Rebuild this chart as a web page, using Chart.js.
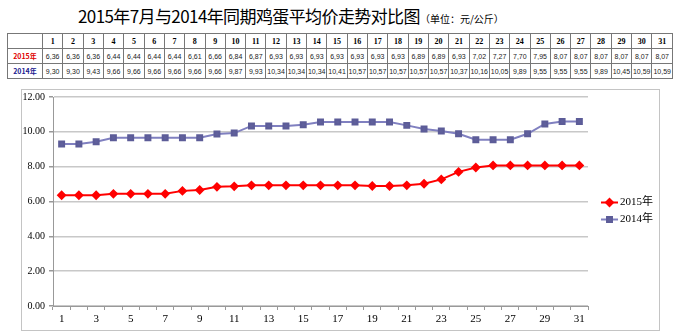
<!DOCTYPE html>
<html>
<head>
<meta charset="utf-8">
<script src="https://cdn.jsdelivr.net/npm/chart.js@4"></script>
<style>
  body { margin: 0; background: #fff; width: 680px; height: 333px; position: relative; overflow: hidden; font-family: "Noto Sans CJK SC", sans-serif; }
  #title { position: absolute; top: 3px; left: 78px; text-align: left; font-size: 17px; color: #000; white-space: nowrap; letter-spacing: -0.6px; }
  #title small { font-size: 10px; letter-spacing: 0; }
  #tbl { position: absolute; left: 7px; top: 33px; border-collapse: collapse; table-layout: fixed; width: 666px; }
  #tbl td { border: 1px solid #777; height: 14px; padding: 0; text-align: center; font-size: 7px; font-family: "Liberation Sans", sans-serif; color: #222; }
  #tbl tr:first-child td { font-family: "Liberation Serif", serif; font-weight: bold; font-size: 8px; color: #000; }
  #tbl td.r15 { color: #e00000; font-weight: bold; font-family: "Noto Sans CJK SC"; font-size: 7px; }
  #tbl td.r14 { color: #202090; font-weight: bold; font-family: "Noto Sans CJK SC"; font-size: 7px; }
  #box { position: absolute; left: 21px; top: 89px; width: 637px; height: 240px; border: 1px solid #c4c4c4; overflow: hidden; }
  #c { position: absolute; left: 0; top: -3px; }
</style>
</head>
<body>
<div id="title">2015年7月与2014年同期鸡蛋平均价走势对比图<small>（单位：元/公斤）</small></div>
<table id="tbl"></table>
<div id="box"><canvas id="c" width="637" height="243"></canvas></div>
<script>
const days = ['1','2','3','4','5','6','7','8','9','10','11','12','13','14','15','16','17','18','19','20','21','22','23','24','25','26','27','28','29','30','31'];
const price2015 = [6.36,6.36,6.36,6.44,6.44,6.44,6.44,6.61,6.66,6.84,6.87,6.93,6.93,6.93,6.93,6.93,6.93,6.93,6.89,6.89,6.93,7.02,7.27,7.70,7.95,8.07,8.07,8.07,8.07,8.07,8.07];
const price2014 = [9.30,9.30,9.43,9.66,9.66,9.66,9.66,9.66,9.66,9.87,9.93,10.34,10.34,10.34,10.41,10.57,10.57,10.57,10.57,10.57,10.37,10.16,10.05,9.89,9.55,9.55,9.55,9.89,10.45,10.59,10.59];
const seriesNames = ['2015年', '2014年'];

// data table above the chart
const fmt = v => v.toFixed(2).replace('.', ',');
const tbl = document.getElementById('tbl');
let html = '<colgroup><col style="width:35px">' + days.map(() => '<col>').join('') + '</colgroup>';
html += '<tr><td></td>' + days.map(d => `<td>${d}</td>`).join('') + '</tr>';
html += `<tr><td class="r15">${seriesNames[0]}</td>` + price2015.map(v => `<td>${fmt(v)}</td>`).join('') + '</tr>';
html += `<tr><td class="r14">${seriesNames[1]}</td>` + price2014.map(v => `<td>${fmt(v)}</td>`).join('') + '</tr>';
tbl.innerHTML = html;

// legend with line + marker, drawn right of the plot
const sideLegend = {
  id: 'sideLegend',
  afterDraw(chart) {
    const ctx = chart.ctx;
    const x0 = chart.chartArea.right + 13;
    const yMid = (chart.chartArea.top + chart.chartArea.bottom) / 2 + 1;
    chart.data.datasets.forEach((ds, i) => {
      const y = yMid + i * 17;
      ctx.save();
      ctx.strokeStyle = ds.borderColor;
      ctx.lineWidth = 2;
      ctx.beginPath();
      ctx.moveTo(x0, y);
      ctx.lineTo(x0 + 17, y);
      ctx.stroke();
      ctx.fillStyle = ds.pointBackgroundColor;
      ctx.strokeStyle = ds.pointBorderColor;
      Chart.helpers.drawPoint(ctx, { pointStyle: ds.pointStyle, radius: ds.pointRadius, borderWidth: 1 }, x0 + 8.5, y);
      ctx.fillStyle = '#000';
      ctx.font = '11px "Liberation Serif", "Noto Sans CJK SC", serif';
      ctx.textBaseline = 'middle';
      ctx.fillText(ds.label, x0 + 19, y);
      ctx.restore();
    });
  }
};

new Chart(document.getElementById('c'), {
  type: 'line',
  data: {
    labels: days,
    datasets: [
      {
        label: seriesNames[0],
        data: price2015,
        borderColor: '#ff0000',
        backgroundColor: '#ff0000',
        borderWidth: 2,
        pointStyle: 'rectRot',
        pointRadius: 3.5,
        pointBorderColor: '#ff0000',
        pointBackgroundColor: '#ff0000',
        tension: 0
      },
      {
        label: seriesNames[1],
        data: price2014,
        borderColor: '#8080c0',
        backgroundColor: '#60609c',
        borderWidth: 2,
        pointStyle: 'rect',
        pointRadius: 3.5,
        pointBorderColor: '#5c5c98',
        pointBackgroundColor: '#60609c',
        tension: 0
      }
    ]
  },
  options: {
    responsive: false,
    animation: false,
    devicePixelRatio: 1,
    layout: { padding: { left: 0, top: 0, right: 71, bottom: 0 } },
    plugins: { legend: { display: false }, tooltip: { enabled: false } },
    scales: {
      x: {
        offset: true,
        afterFit: s => { s.height = 24; },
        grid: { offset: true, drawOnChartArea: false, drawTicks: true, tickLength: 4, color: '#999' },
        border: { color: '#999' },
        ticks: {
          autoSkip: false,
          maxRotation: 0,
          padding: 3,
          color: '#000',
          font: { family: '"Liberation Serif", serif', size: 11 },
          callback: (v, i) => (i % 2 === 0 ? days[i] : '')
        }
      },
      y: {
        min: 0,
        max: 12,
        afterFit: s => { s.width = 31; },
        grid: { color: '#c8c8c8', lineWidth: 1.5, tickLength: 4, tickColor: '#999' },
        border: { color: '#999' },
        ticks: {
          stepSize: 2,
          padding: 4,
          color: '#000',
          font: { family: '"Liberation Serif", serif', size: 10 },
          callback: v => v.toFixed(2)
        }
      }
    }
  },
  plugins: [sideLegend]
});
</script>
</body>
</html>
